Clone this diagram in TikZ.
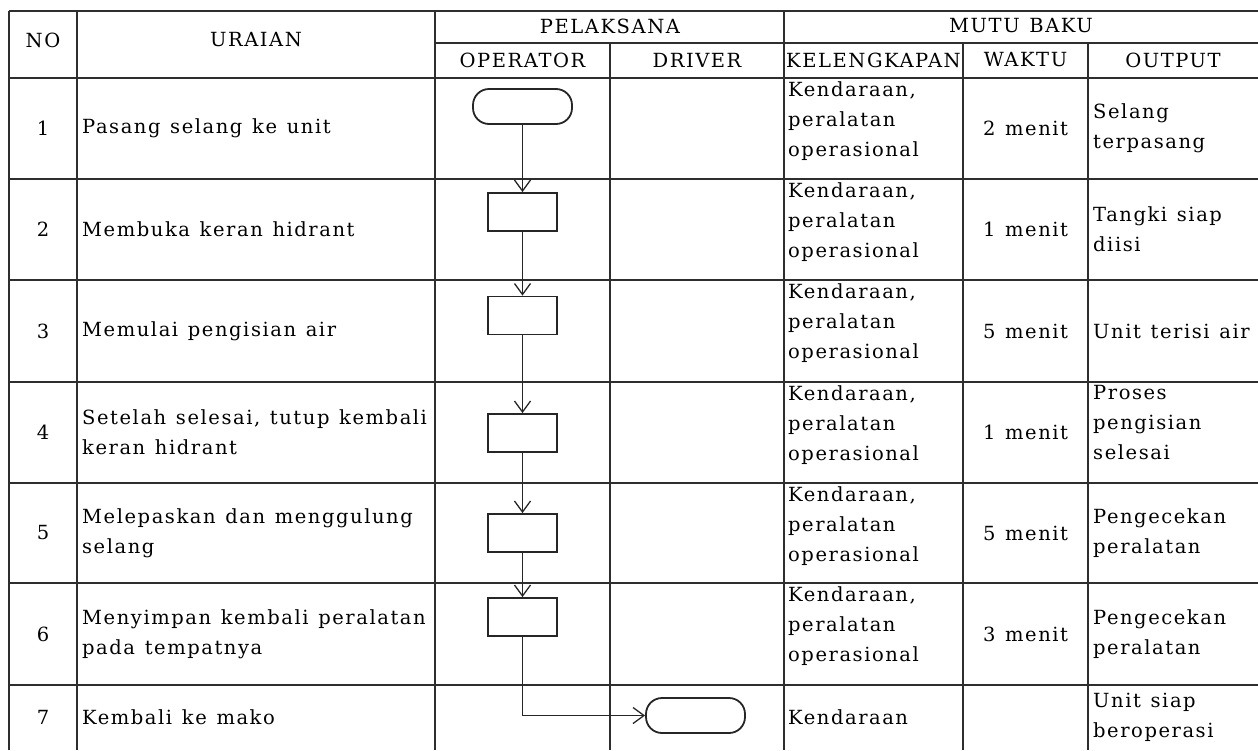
\documentclass[tikz,border=0pt]{standalone}
\usepackage{fontspec}
\setmainfont{DejaVu Serif}[LetterSpace=8,WordSpace=1.25]
\usetikzlibrary{arrows.meta}
\begin{document}
\begin{tikzpicture}[x=1pt,y=-1pt,
  grid/.style={line width=1.8pt, draw=black!82},
  txt/.style={inner sep=0pt, font=\fontsize{19.5}{30}\selectfont, text=black},
  hdr/.style={inner sep=0pt, font=\fontsize{19.5}{30}\selectfont, text=black},
  lt/.style={txt, anchor=west, align=left},
  blk/.style={txt, anchor=north west, align=left},
  procbox/.style={draw=black!85, line width=1.8pt, minimum width=69pt, minimum height=38pt, inner sep=0pt},
  termbox/.style={draw=black!85, line width=1.8pt, rounded corners=16pt, minimum width=99pt, minimum height=35pt, inner sep=0pt},
  conn/.style={draw=black!85, line width=1.3pt, -{Straight Barb[length=11pt,width=16pt]}}
]
\useasboundingbox (0,0) rectangle (1258,750);
% grid
\draw[grid] (9,11) -- (1258,11);
\draw[grid] (435,43) -- (1258,43);
\foreach \y in {78,179,280,382,483,583,685} \draw[grid] (9,\y) -- (1258,\y);
\foreach \x in {9,77,435,784} \draw[grid] (\x,11) -- (\x,750);
\foreach \x in {610,963,1088} \draw[grid] (\x,43) -- (\x,750);
% header
\node[hdr] (hno) at (43,40) {NO};
\node[hdr] (hur) at (256,40) {URAIAN};
\node[hdr] (hpel) at (610,26) {PELAKSANA};
\node[hdr] (hmutu) at (1021,26) {MUTU BAKU};
\node[hdr] (hop) at (522.5,60) {OPERATOR};
\node[hdr] (hdrv) at (697,60) {DRIVER};
\node[hdr] (hkel) at (873.5,60) {KELENGKAPAN};
\node[hdr] (hwak) at (1025.5,60) {WAKTU};
\node[hdr] (hout) at (1173,60) {OUTPUT};
% numbers
\node[txt] (n1) at (43,128.5) {1};
\node[txt] (n2) at (43,229.5) {2};
\node[txt] (n3) at (43,331) {3};
\node[txt] (n4) at (43,432.5) {4};
\node[txt] (n5) at (43,533) {5};
\node[txt] (n6) at (43,634) {6};
\node[txt] (n7) at (43,717) {7};
% uraian
\node[lt] (u1) at (82,128.5) {Pasang selang ke unit};
\node[lt] (u2) at (82,229.5) {Membuka keran hidrant};
\node[lt] (u3) at (82,331) {Memulai pengisian air};
\node[lt] (u4) at (82,432.5) {Setelah selesai, tutup kembali\\keran hidrant};
\node[lt] (u5) at (82,533) {Melepaskan dan menggulung\\selang};
\node[lt] (u6) at (82,634) {Menyimpan kembali peralatan\\pada tempatnya};
\node[lt] (u7) at (82,717) {Kembali ke mako};
% kelengkapan
\node[blk] (k1) at (788,81) {Kendaraan,\\peralatan\\operasional};
\node[blk] (k2) at (788,182) {Kendaraan,\\peralatan\\operasional};
\node[blk] (k3) at (788,283) {Kendaraan,\\peralatan\\operasional};
\node[blk] (k4) at (788,385) {Kendaraan,\\peralatan\\operasional};
\node[blk] (k5) at (788,486) {Kendaraan,\\peralatan\\operasional};
\node[blk] (k6) at (788,586) {Kendaraan,\\peralatan\\operasional};
\node[lt] (k7) at (788,717) {Kendaraan};
% waktu
\node[txt] (w1) at (1025.5,128.5) {2 menit};
\node[txt] (w2) at (1025.5,229.5) {1 menit};
\node[txt] (w3) at (1025.5,331) {5 menit};
\node[txt] (w4) at (1025.5,432.5) {1 menit};
\node[txt] (w5) at (1025.5,533) {5 menit};
\node[txt] (w6) at (1025.5,634) {3 menit};
% output
\node[lt] (o1) at (1093,128.5) {Selang\\terpasang};
\node[lt] (o2) at (1093,229.5) {Tangki siap\\diisi};
\node[lt] (o3) at (1093,331) {Unit terisi air};
\node[blk] (o4) at (1093,385) {Proses\\pengisian\\selesai};
\node[lt] (o5) at (1093,533) {Pengecekan\\peralatan};
\node[lt] (o6) at (1093,634) {Pengecekan\\peralatan};
\node[lt] (o7) at (1093,717) {Unit siap\\beroperasi};
% flow shapes
\node[termbox] (s1) at (522.5,106.5) {};
\node[procbox] (s2) at (522.5,212) {};
\node[procbox] (s3) at (522.5,315.5) {};
\node[procbox] (s4) at (522.5,433) {};
\node[procbox] (s5) at (522.5,533) {};
\node[procbox] (s6) at (522.5,617) {};
\node[termbox] (s7) at (695.5,715.5) {};
% connectors
\draw[conn] (s1) -- (s2);
\draw[conn] (s2) -- (s3);
\draw[conn] (s3) -- (s4);
\draw[conn] (s4) -- (s5);
\draw[conn] (s5) -- (s6);
\draw[conn] (s6.south) |- (s7.west);
\end{tikzpicture}
\end{document}
